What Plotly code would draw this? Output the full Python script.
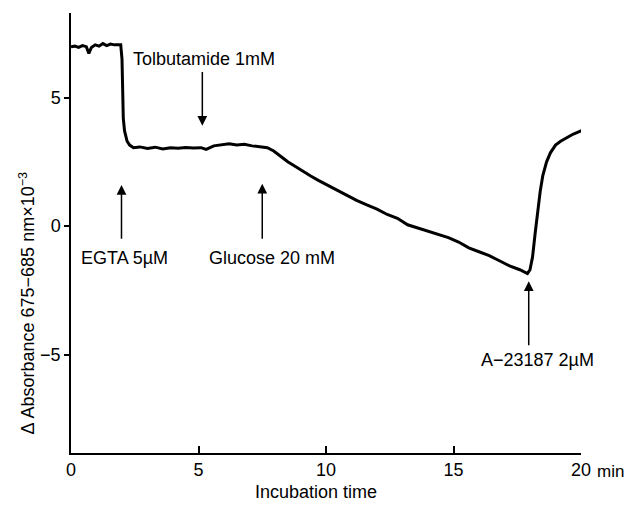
import plotly.graph_objects as go

# Trace
time_min = [0.0, 0.15, 0.3, 0.45, 0.6, 0.7, 0.8, 0.95, 1.1, 1.25, 1.4, 1.55, 1.7, 1.85, 1.95,
            2.0, 2.05, 2.1, 2.2, 2.3, 2.45, 2.7, 3.0, 3.3, 3.6, 3.9, 4.2, 4.5, 4.8, 5.1, 5.3,
            5.6, 5.9, 6.2, 6.5, 6.8, 7.1, 7.4, 7.7, 7.95, 8.2, 8.5, 8.8, 9.1, 9.4, 9.7, 10.0,
            10.4, 10.8, 11.2, 11.6, 12.0, 12.4, 12.8, 13.2, 13.6, 14.0, 14.4, 14.8, 15.2, 15.6,
            16.0, 16.4, 16.8, 17.2, 17.6, 17.9, 18.0, 18.1, 18.2, 18.3, 18.4, 18.5, 18.65, 18.8,
            19.0, 19.2, 19.45, 19.7, 20.05]
absorbance = [6.98, 7.0, 6.95, 7.02, 6.98, 6.72, 6.95, 7.05, 7.0, 7.1, 7.02, 7.08, 7.05, 7.06, 7.05,
              6.5, 4.2, 3.7, 3.3, 3.15, 3.05, 3.08, 3.02, 3.07, 3.0, 3.05, 3.03, 3.06, 3.04, 3.05, 2.98,
              3.12, 3.15, 3.2, 3.15, 3.18, 3.12, 3.08, 3.05, 2.92, 2.72, 2.5, 2.32, 2.12, 1.95, 1.78, 1.62,
              1.42, 1.2, 1.0, 0.82, 0.66, 0.45, 0.3, 0.05, -0.08, -0.2, -0.35, -0.45, -0.62, -0.85,
              -1.0, -1.15, -1.35, -1.55, -1.7, -1.85, -1.7, -1.2, -0.3, 0.6, 1.35, 1.95, 2.5, 2.85,
              3.15, 3.3, 3.45, 3.58, 3.72]

x_ticks = [0, 5, 10, 15, 20]
y_ticks = [5, 0, -5]

# Additions: label, arrow x, arrow tail y, arrow tip y, label x, label y
add_labels = ["EGTA 5\u00b5M", "Tolbutamide 1mM", "Glucose 20 mM", "A\u221223187 2\u00b5M"]
add_x = [1.98, 5.15, 7.5, 17.95]
add_tail = [-0.55, 6.05, -0.55, -4.7]
add_tip = [1.6, 3.9, 1.65, -2.15]
label_x = [0.3, 5.2, 5.35, 18.3]
label_y = [-1.25, 6.5, -1.25, -5.2]
label_anchor = ["left", "center", "left", "center"]

FONT = "Liberation Sans, Arial, sans-serif"

fig = go.Figure()
fig.add_trace(go.Scatter(x=time_min, y=absorbance, mode="lines",
                         line=dict(color="black", width=3), showlegend=False,
                         hoverinfo="skip"))

annotations = []
for lab, ax_, ta, tp, lx, ly, anc in zip(add_labels, add_x, add_tail, add_tip,
                                          label_x, label_y, label_anchor):
    annotations.append(dict(x=ax_, y=tp, ax=ax_, ay=ta, xref="x", yref="y",
                            axref="x", ayref="y", text="", showarrow=True,
                            arrowhead=2, arrowsize=1.3, arrowwidth=1.5,
                            arrowcolor="black"))
    annotations.append(dict(x=lx, y=ly, xref="x", yref="y", text=lab,
                            showarrow=False, xanchor=anc, yanchor="middle",
                            font=dict(size=18, color="black", family=FONT)))

annotations.append(dict(x=20, y=0, xref="x", yref="paper", text="min",
                        showarrow=False, xanchor="left", yanchor="top",
                        xshift=14, yshift=-7,
                        font=dict(size=17, color="black", family=FONT)))
annotations.append(dict(x=9.6, y=0, xref="x", yref="paper", text="Incubation time",
                        showarrow=False, xanchor="center", yanchor="middle",
                        yshift=-39,
                        font=dict(size=18, color="black", family=FONT)))
annotations.append(dict(x=-0.086, y=0.34, xref="paper", yref="paper",
                        text="\u0394 Absorbance 675\u2212685 nm\u00d710<sup>\u22123</sup>",
                        showarrow=False, textangle=-90, xanchor="center", yanchor="middle",
                        font=dict(size=18, color="black", family=FONT)))

fig.update_layout(
    width=625, height=506,
    margin=dict(l=71, r=44, t=13, b=53),
    plot_bgcolor="white", paper_bgcolor="white",
    annotations=annotations,
    xaxis=dict(range=[0, 20], tickvals=x_ticks, ticktext=[str(v) for v in x_ticks],
               showline=True, linecolor="black", linewidth=1.5, showgrid=False,
               zeroline=False, ticks="inside", ticklen=7, tickwidth=1.5, tickcolor="black",
               tickfont=dict(size=18, color="black", family=FONT)),
    yaxis=dict(range=[-8.83, 8.29], tickvals=y_ticks,
               showline=True, linecolor="black", linewidth=1.5, showgrid=False,
               zeroline=False, ticks="outside", ticklen=5, tickwidth=1.5, tickcolor="black",
               tickfont=dict(size=18, color="black", family=FONT)),
)

fig.write_html("out.html")
